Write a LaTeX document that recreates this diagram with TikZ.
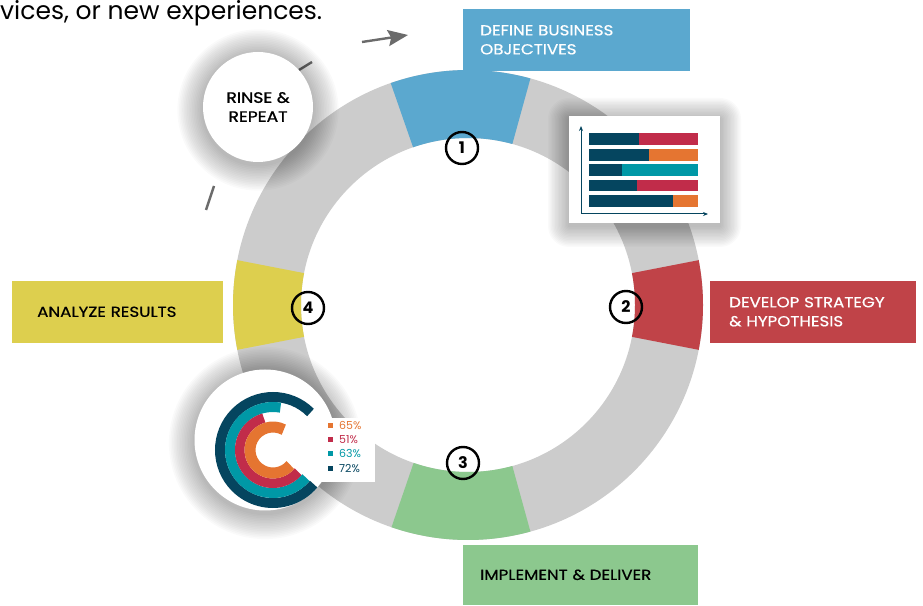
\documentclass[tikz,border=0pt]{standalone}
\usepackage{fontspec}
\setmainfont{Poppins}
\newfontfamily\labelfont[FakeStretch=1.15, FakeBold=0.6]{Poppins}
\newfontfamily\headfont[FakeStretch=1.15, FakeBold=1.2]{Poppins}
\usetikzlibrary{arrows.meta}

\definecolor{ringgray}{HTML}{CCCCCC}
\definecolor{stepblue}{HTML}{5BA8CF}
\definecolor{stepred}{HTML}{C04348}
\definecolor{stepyellow}{HTML}{DDCF4E}
\definecolor{stepgreen}{HTML}{8CC88E}
\definecolor{chartnavy}{HTML}{05455F}
\definecolor{chartred}{HTML}{C12C4A}
\definecolor{chartorange}{HTML}{E57531}
\definecolor{chartteal}{HTML}{0098A6}
\definecolor{loopgray}{HTML}{6B6B6B}

\tikzset{
  stepbox/.style={
    rectangle,
    anchor=south west,
    align=left,
    minimum height=62pt,
    inner ysep=0pt,
    font=\labelfont\fontsize{14.5}{19}\selectfont
  },
  numcircle/.style={
    circle,
    draw=black,
    line width=2.4pt,
    minimum size=32pt,
    inner sep=0pt,
    font=\bfseries\fontsize{16}{16}\selectfont
  },
  whitecard/.style={fill=white, inner sep=0pt},
  shadowstep/.style={fill=black, opacity=0.021},
  loopline/.style={draw=loopgray, line width=2.4pt},
  axis/.style={draw=chartnavy, line width=1pt, -{Stealth[length=5pt, width=4pt]}},
  legsq/.style={rectangle, minimum size=5pt, inner sep=0pt},
  legtext/.style={anchor=west, inner sep=0pt, font=\fontsize{11}{11}\selectfont}
}

\begin{document}
\begin{tikzpicture}[x=1pt,y=1pt]
\useasboundingbox (0,0) rectangle (923,605);

\node[anchor=base west, inner sep=0pt, font=\fontsize{25}{27}\selectfont] (intro) at (0,585) {vices, or new experiences.};

% cycle arrow around the ring
\draw[loopline] (206,395) -- (214,419);
\draw[loopline] (299,535) -- (312,543);
\draw[loopline, -{Stealth[length=20pt, width=16pt, inset=3pt]}] (362,563) -- (408,570);

% ring with the four coloured steps
\coordinate (ctr) at (468,300);
\fill[ringgray, even odd rule] (ctr) circle (235) (ctr) circle (167);
\begin{scope}[shift={(ctr)}]
\fill[stepblue] (74.6:167) arc[start angle=74.6, end angle=109.2, radius=167] -- (109.2:235) arc[start angle=109.2, end angle=74.6, radius=235] -- cycle;
\fill[stepred] (-11:167) arc[start angle=-11, end angle=11, radius=167] -- (11:235) arc[start angle=11, end angle=-11, radius=235] -- cycle;
\fill[stepgreen] (-109:167) arc[start angle=-109, end angle=-74.6, radius=167] -- (-74.6:235) arc[start angle=-74.6, end angle=-109, radius=235] -- cycle;
\fill[stepyellow] (169:167) arc[start angle=169, end angle=191, radius=167] -- (191:235) arc[start angle=191, end angle=169, radius=235] -- cycle;
\end{scope}

\node[stepbox, fill=stepblue, text=white, text width=193pt, inner xsep=17pt] (define) at (463,534) {DEFINE BUSINESS\\OBJECTIVES};
\node[stepbox, fill=stepred, text=white, text width=168pt, inner xsep=19pt] (develop) at (710,262) {DEVELOP STRATEGY\\\& HYPOTHESIS};
\node[stepbox, fill=stepyellow, text width=161pt, inner xsep=25pt] (analyze) at (12,262) {ANALYZE RESULTS};
\node[stepbox, fill=stepgreen, minimum height=60pt, text width=201pt, inner xsep=17pt] (implement) at (463,0) {IMPLEMENT \& DELIVER};

\node[numcircle] (one) at (462,457) {1};
\node[numcircle] (two) at (626,298) {2};
\node[numcircle] (three) at (463,142) {3};
\node[numcircle] (four) at (308,297) {4};

% soft shadows under the white cards
\coordinate (rinsec) at (258,498);
\coordinate (piec) at (265,165);
\coordinate (cardsw) at (569,382);
\coordinate (cardne) at (720,489);
\foreach \s in {1.6,3.2,...,25.6}
  \fill[shadowstep] ([yshift=-3pt]rinsec) circle ({55+\s});
\foreach \s in {1.6,3.2,...,25.6}
  \fill[shadowstep] ([yshift=-3pt]piec) circle ({70.5+\s});
\foreach \s in {1.4,2.8,...,22.4}
  \fill[shadowstep, rounded corners=\s pt] ([shift={(-\s,-\s-3)}]cardsw) rectangle ([shift={(\s,\s-3)}]cardne);

\node[whitecard, circle, minimum size=110pt, align=center, font=\headfont\fontsize{15}{19}\selectfont] (rinse) at (rinsec) {RINSE \&\\REPEAT};

% bar chart card
\node[whitecard, rectangle, minimum width=151pt, minimum height=107pt] (barcard) at (644.5,435.5) {};
\fill[chartnavy] (589,460) rectangle (639,472);
\fill[chartred] (639,460) rectangle (698,472);
\fill[chartnavy] (589,444) rectangle (649,456);
\fill[chartorange] (649,444) rectangle (698,456);
\fill[chartnavy] (589,429) rectangle (622,441);
\fill[chartteal] (622,429) rectangle (698,441);
\fill[chartnavy] (589,414) rectangle (637,425);
\fill[chartred] (637,414) rectangle (698,425);
\fill[chartnavy] (589,398) rectangle (673,410);
\fill[chartorange] (673,398) rectangle (698,410);
\coordinate (origin) at (581,391);
\coordinate (ytop) at (581,479);
\coordinate (xend) at (708,391);
\draw[axis] (origin) -- (ytop);
\draw[axis] (origin) -- (xend);

% radial chart
\node[whitecard, circle, minimum size=141pt] (piebg) at (piec) {};
\begin{scope}[shift={(273,155)}]
\draw[chartnavy, line width=10pt] (45:53) arc[start angle=45, end angle=320, radius=53];
\draw[chartteal, line width=10pt] (80:43) arc[start angle=80, end angle=320, radius=43];
\draw[chartred, line width=9.5pt] (106:33.25) arc[start angle=106, end angle=319, radius=33.25];
\draw[chartorange, line width=11pt] (62:23) arc[start angle=62, end angle=319, radius=23];
\end{scope}

\node[rectangle, fill=white, anchor=south west, minimum width=55pt, minimum height=64pt] (legend) at (320,123) {};
\node[legsq, fill=chartorange] (sqa) at (330,179) {};
\node[legsq, fill=chartred] (sqb) at (330,165) {};
\node[legsq, fill=chartteal] (sqc) at (330,151) {};
\node[legsq, fill=chartnavy] (sqd) at (330,136) {};
\node[legtext, text=chartorange] (pcta) at (339,179) {65\%};
\node[legtext, text=chartred] (pctb) at (339,165) {51\%};
\node[legtext, text=chartteal] (pctc) at (339,151) {63\%};
\node[legtext, text=chartnavy] (pctd) at (339,136) {72\%};
\end{tikzpicture}
\end{document}
